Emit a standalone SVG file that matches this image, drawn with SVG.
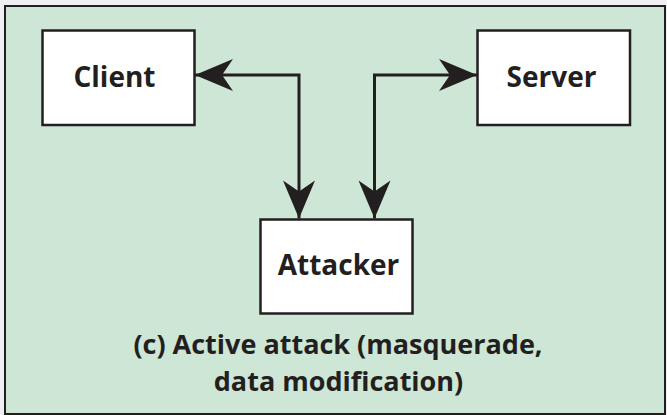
<svg xmlns="http://www.w3.org/2000/svg" width="667" height="415" viewBox="0 0 667 415">
  <style>
    .box { fill: #ffffff; stroke: #231f20; stroke-width: 2.5; }
    .label { font-family: "Open Sans", "Liberation Sans", sans-serif; font-weight: bold; font-size: 28px; fill: #231f20; text-anchor: middle; }
    .caption { font-family: "Open Sans", "Liberation Sans", sans-serif; font-weight: bold; font-size: 27px; fill: #231f20; text-anchor: middle; }
    .conn { fill: none; stroke: #231f20; stroke-width: 3; marker-start: url(#arrow); marker-end: url(#arrow); }
  </style>
  <defs>
    <marker id="arrow" markerUnits="userSpaceOnUse" viewBox="-40 -20 42 40" refX="0" refY="0" markerWidth="42" markerHeight="40" orient="auto-start-reverse">
      <path d="M0,0 L-38,-16 L-27,0 L-38,16 Z" fill="#231f20"/>
    </marker>
  </defs>
  <rect x="0" y="0" width="667" height="415" fill="#efeff4"/>
  <rect id="panel" x="5" y="6" width="660" height="408" fill="#cde6d5" stroke="#231f20" stroke-width="2"/>
  <g id="connectors">
    <path class="conn" d="M195,75 L299,75 L299,218.5"/>
    <path class="conn" d="M477,75 L374.5,75 L374.5,218.5"/>
  </g>
  <g id="client">
    <rect class="box" x="42.5" y="30.5" width="152" height="94.5"/>
    <text class="label" x="114.5" y="87">Client</text>
  </g>
  <g id="server">
    <rect class="box" x="477.5" y="30.5" width="152.5" height="94.5"/>
    <text class="label" x="551.5" y="87">Server</text>
  </g>
  <g id="attacker">
    <rect class="box" x="260.5" y="219.5" width="152" height="94"/>
    <text class="label" x="338.5" y="275">Attacker</text>
  </g>
  <g id="caption">
    <text class="caption" x="338" y="354">(c) Active attack (masquerade,</text>
    <text class="caption" x="338.5" y="391">data modification)</text>
  </g>
</svg>
